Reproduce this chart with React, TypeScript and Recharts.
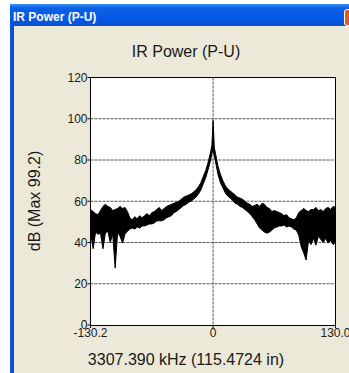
import { AreaChart, Area, XAxis, YAxis, CartesianGrid } from 'recharts';

// frequency offset bins (kHz from carrier)
const freqs = [
  -130, -127.4, -124.8, -122.2, -119.6, -117, -114.4, -111.8, -109.2, -106.6,
  -104, -101.4, -98.8, -96.2, -93.6, -91, -88.4, -85.8, -83.2, -80.6,
  -78, -75.4, -72.8, -70.2, -67.6, -65, -62.4, -59.8, -57.2, -54.6,
  -52, -49.4, -46.8, -44.2, -41.6, -39, -36.4, -33.8, -31.2, -28.6,
  -26, -23.4, -20.8, -18.2, -15.6, -13, -10.4, -7.8, -5.2, -2.6, -1.3,
  0,
  1.3, 2.6, 5.2, 7.8, 10.4, 13, 15.6, 18.2, 20.8, 23.4, 26,
  28.6, 31.2, 33.8, 36.4, 39, 41.6, 44.2, 46.8, 49.4, 52,
  54.6, 57.2, 59.8, 62.4, 65, 67.6, 70.2, 72.8, 75.4, 78,
  80.6, 83.2, 85.8, 88.4, 91, 93.6, 96.2, 98.8, 101.4, 104,
  106.6, 109.2, 111.8, 114.4, 117, 119.6, 122.2, 124.8, 127.4, 130,
];

// peak-hold envelope of the noisy power trace (dB)
const upper = [
  56, 55, 54, 53.5, 55.5, 57.5, 58.5, 57.5, 57, 55.5,
  56, 56.5, 57.5, 56.5, 57, 55, 52, 51, 52.5, 51.5,
  53, 52, 53, 54, 53, 54.5, 55, 56, 57, 55.5,
  56.5, 57.5, 58, 58.5, 59, 59.5, 60, 61, 62, 62.5,
  63, 63.5, 64.5, 65.5, 67, 69, 72, 75, 79, 84, 87,
  99.2,
  86, 83, 77, 73, 70, 67.5, 66, 65, 64, 63, 62,
  61.5, 61, 60, 59, 58.5, 57.5, 58, 58.5, 57.5, 59,
  58.5, 57, 56.5, 55, 55.5, 55, 54.5, 54, 53, 53.5,
  52, 51.5, 51, 52, 54.5, 55.5, 56.5, 55.5, 55, 56,
  56, 57, 55.5, 56, 55, 56.5, 57, 56, 57.5, 57,
];

// valley envelope, including the downward noise spikes (dB)
const lower = [
  44, 37, 45, 44, 44.5, 37, 44.5, 45.5, 40, 44,
  27.6, 45, 43, 39.7, 44, 45.5, 46.5, 47, 46.5, 47.5,
  47, 48, 48, 48.5, 49, 49, 49.5, 50.5, 50.5, 50.5,
  51, 52, 52.5, 53, 54.5, 55, 56, 57, 58, 58.5,
  59.5, 60, 61, 62, 63.5, 65.5, 68.5, 71.5, 75.5, 80, 83,
  85,
  82, 79, 73, 69, 66.5, 64, 62.5, 61.5, 60.5, 59, 58.5,
  57.5, 57, 56, 55, 54, 52.5, 51, 49, 47, 46,
  45, 44.5, 45, 46, 47, 47.5, 48, 48, 48.5, 47.5,
  48, 47.5, 46.5, 46, 43.5, 38, 35, 31.5, 41, 39,
  42, 38.7, 43, 41.5, 40, 42, 39.7, 41, 39, 40,
];

const yTicks = [0, 20, 40, 60, 80, 100, 120];
const xTicks = [-130.2, 0, 130.0];
const gridY = [20, 40, 60, 80, 100];
const gridX = [0];

const spectrum = freqs.map((f, i) => ({ f, band: [lower[i], upper[i]] }));

const FONT = '"Liberation Sans", Arial, sans-serif';
const TEXT = '#1a1a1a';

export default function App() {
  return (
    <div
      style={{
        position: 'fixed',
        left: 0,
        top: 0,
        width: 349,
        height: 373,
        overflow: 'hidden',
        background: '#fff',
        fontFamily: FONT,
      }}
    >
      {/* window frame */}
      <div
        style={{
          position: 'absolute',
          left: 10,
          top: 4,
          width: 360,
          height: 22,
          background: 'linear-gradient(#3d8ef7 0%, #0b61e4 18%, #0558e6 70%, #0a4fd0 100%)',
        }}
      />
      <div
        style={{
          position: 'absolute',
          left: 10,
          top: 26,
          width: 4,
          height: 360,
          background: 'linear-gradient(90deg, #0a5ee0, #0848c4)',
        }}
      />
      <div
        style={{
          position: 'absolute',
          left: 14,
          top: 26,
          width: 340,
          height: 360,
          background: '#ece9d8',
        }}
      />
      <div
        style={{
          position: 'absolute',
          left: 344,
          top: 9,
          width: 21,
          height: 15,
          border: '1px solid #fff',
          borderRadius: 3,
          background: '#dd5a2f',
        }}
      />
      <div
        style={{
          position: 'absolute',
          left: 13,
          top: 8,
          color: '#fff',
          fontWeight: 'bold',
          fontSize: 12,
          lineHeight: '18px',
          whiteSpace: 'nowrap',
        }}
      >
        IR Power (P-U)
      </div>

      {/* chart titles */}
      <div
        style={{
          position: 'absolute',
          left: 86,
          width: 200,
          top: 42,
          textAlign: 'center',
          fontSize: 16,
          lineHeight: '20px',
          color: TEXT,
        }}
      >
        IR Power (P-U)
      </div>
      <div
        style={{
          position: 'absolute',
          left: 36,
          width: 300,
          top: 350,
          textAlign: 'center',
          fontSize: 16,
          lineHeight: '20px',
          color: TEXT,
          whiteSpace: 'nowrap',
        }}
      >
        3307.390 kHz (115.4724 in)
      </div>
      <div
        style={{
          position: 'absolute',
          left: 35,
          top: 201,
          transform: 'translate(-50%, -50%) rotate(-90deg)',
          fontSize: 16,
          lineHeight: '20px',
          color: TEXT,
          whiteSpace: 'nowrap',
        }}
      >
        dB (Max 99.2)
      </div>

      {/* plot box */}
      <div
        style={{
          position: 'absolute',
          left: 90,
          top: 77,
          width: 244,
          height: 247,
          border: '1px solid #000',
          background: '#fff',
        }}
      />

      <div style={{ position: 'absolute', left: 0, top: 0 }}>
        <AreaChart
          width={349}
          height={373}
          data={spectrum}
          margin={{ top: 77.5, right: 13.5, bottom: 18, left: 30.5 }}
        >
          <CartesianGrid
            horizontalValues={gridY}
            verticalValues={gridX}
            stroke="#555"
            strokeDasharray="3 1"
          />
          <XAxis
            type="number"
            dataKey="f"
            domain={[-130.2, 130]}
            ticks={xTicks}
            interval={0}
            height={30}
            axisLine={false}
            tickLine={{ stroke: '#000' }}
            tickSize={3}
            tickMargin={0}
            tickFormatter={(v: number) => (v === 0 ? '0' : v.toFixed(1))}
            tick={{ fill: TEXT, fontSize: 12, fontFamily: FONT }}
          />
          <YAxis
            type="number"
            domain={[0, 120]}
            ticks={yTicks}
            interval={0}
            width={60}
            axisLine={false}
            tickLine={{ stroke: '#000' }}
            tickSize={3}
            tickMargin={0}
            tick={{ fill: TEXT, fontSize: 12, fontFamily: FONT }}
          />
          <Area
            type="linear"
            dataKey="band"
            stroke="#000"
            strokeWidth={1}
            fill="#000"
            fillOpacity={1}
            dot={false}
            activeDot={false}
            isAnimationActive={false}
          />
        </AreaChart>
      </div>
    </div>
  );
}
